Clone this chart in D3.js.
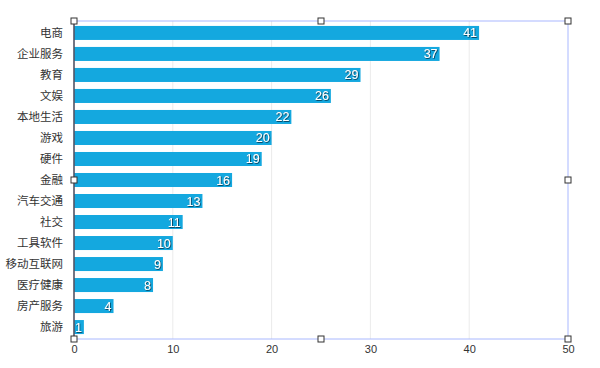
<!DOCTYPE html>
<html><head><meta charset="utf-8">
<script src="https://cdn.jsdelivr.net/npm/d3@7"></script>
<style>
body{margin:0;background:#fff;}
svg text{font-family:"Noto Sans CJK SC","Noto Sans",sans-serif;}
</style></head>
<body><svg id="c" width="600" height="368"></svg>
<script>
const categories = ["电商","企业服务","教育","文娱","本地生活","游戏","硬件","金融","汽车交通","社交","工具软件","移动互联网","医疗健康","房产服务","旅游"];
const values = [41,37,29,26,22,20,19,16,13,11,10,9,8,4,1];
const xTicks = [0,10,20,30,40,50];

const svg = d3.select("#c");
const L = 74, R = 568, T = 21, B = 339;
const x = d3.scaleLinear().domain([0,50]).range([L,R]);
const y = d3.scaleBand().domain(categories).range([T,B]).paddingInner(0.333).paddingOuter(0.235);

const defs = svg.append("defs");
const f = defs.append("filter").attr("id","sh").attr("x","-20%").attr("y","-20%").attr("width","140%").attr("height","140%");
f.append("feDropShadow").attr("dx",0.7).attr("dy",0.7).attr("stdDeviation",0.6).attr("flood-color","#002a40").attr("flood-opacity",1);

// gridlines
svg.append("g").selectAll("line").data(xTicks.filter(d=>d>0 && d<50)).join("line")
  .attr("x1",d=>x(d)).attr("x2",d=>x(d)).attr("y1",T).attr("y2",B)
  .attr("stroke","#ebebeb").attr("stroke-width",1);

// bars
svg.append("g").selectAll("rect").data(values).join("rect")
  .attr("x",x(0)).attr("y",(d,i)=>y(categories[i]))
  .attr("width",d=>x(d)-x(0)).attr("height",y.bandwidth())
  .attr("fill","#14a8df");

// value labels
svg.append("g").selectAll("text").data(values).join("text")
  .attr("x",d=>x(d)-2).attr("y",(d,i)=>y(categories[i])+y.bandwidth()/2)
  .attr("dy","0.36em").attr("text-anchor","end")
  .attr("font-size",12.5).attr("fill","#fff").attr("filter","url(#sh)")
  .style("font-family",'"Liberation Sans",Arial,sans-serif')
  .text(d=>d);

// selection frame
svg.append("rect").attr("x",L).attr("y",T).attr("width",R-L).attr("height",B-T)
  .attr("fill","none").attr("stroke","#a9b8ff").attr("stroke-width",1);

// left axis line
svg.append("line").attr("x1",L).attr("x2",L).attr("y1",T).attr("y2",B)
  .attr("stroke","#333").attr("stroke-width",1.2);

// category labels
const yAxis = d3.axisLeft(y).tickSize(0).tickPadding(11);
const ga = svg.append("g").attr("transform",`translate(${L},0)`).call(yAxis);
ga.select(".domain").remove();
ga.selectAll("text").attr("font-size",11.5).attr("fill","#333")
  .style("font-family",'"Noto Sans CJK SC",sans-serif');

// x axis labels
const xAxis = d3.axisBottom(x).tickValues(xTicks).tickSize(0).tickPadding(6);
const gx = svg.append("g").attr("transform",`translate(0,${B})`).call(xAxis);
gx.select(".domain").remove();
gx.selectAll("text").attr("font-size",11).attr("fill","#333")
  .style("font-family",'"Liberation Sans",Arial,sans-serif');

// handles
const hx = [L,(L+R)/2,R], hy = [T,(T+B)/2,B];
const handles = [];
hx.forEach(a=>hy.forEach(b=>{ if(!(a===(L+R)/2 && b===(T+B)/2)) handles.push([a,b]); }));
svg.append("g").selectAll("rect").data(handles).join("rect")
  .attr("x",d=>d[0]-3).attr("y",d=>d[1]-3).attr("width",6).attr("height",6)
  .attr("fill","#fff").attr("stroke","#333").attr("stroke-width",1);
</script></body></html>
